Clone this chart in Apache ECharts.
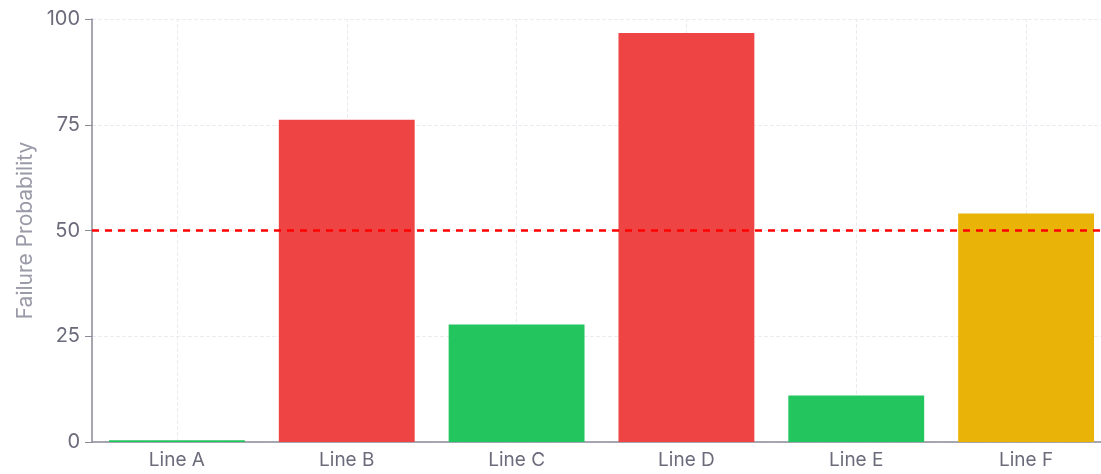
<!DOCTYPE html>
<html><head><meta charset="utf-8">
<script src="https://cdn.jsdelivr.net/npm/echarts@6/dist/echarts.min.js"></script>
<style>html,body{margin:0;padding:0;background:#fff}#c{width:1101px;height:474px}</style>
</head><body><div id="c"></div>
<script>
const categories = ["Line A","Line B","Line C","Line D","Line E","Line F"];
const failureProb = [0.4, 76.2, 27.8, 96.7, 11.0, 54.0];
const barColors = ["#22c55e","#ef4444","#22c55e","#ef4444","#22c55e","#eab308"];
const threshold = 50;

const chart = echarts.init(document.getElementById('c'));
chart.setOption({
  animation:false,
  textStyle:{fontFamily:'Inter'},
  grid:{left:92,width:1019,top:19,bottom:32,containLabel:false,outerBoundsMode:'none'},
  xAxis:{type:'category',data:categories,
    axisLine:{lineStyle:{color:'#8a8a99',width:1.5}},
    axisTick:{alignWithLabel:true,length:6,lineStyle:{color:'#8a8a99'}},
    axisLabel:{color:'#6b6b7b',fontSize:19,margin:9},
    splitLine:{show:false}},
  yAxis:{type:'value',min:0,max:100,interval:25,
    name:'Failure Probability',nameLocation:'middle',nameGap:56,
    nameTextStyle:{color:'#9a9aa8',fontSize:21},
    axisLine:{show:true,lineStyle:{color:'#8a8a99',width:1.5}},
    axisTick:{show:true,length:7,lineStyle:{color:'#8a8a99'}},
    axisLabel:{color:'#6b6b7b',fontSize:20,margin:12},
    splitLine:{show:true,lineStyle:{color:'#ececf0',type:'dashed'}}},
  series:[
   {type:'bar',data:[],silent:true,
    markLine:{silent:true,symbol:'none',label:{show:false},z:1,animation:false,
      lineStyle:{color:'#ececf0',type:'dashed',width:1},
      data:categories.map(c=>({xAxis:c}))}},
   {type:'bar',barCategoryGap:'20%',barGap:'-100%',
    data:failureProb.map((v,i)=>({value:v,itemStyle:{color:barColors[i]}})),
    markLine:{silent:true,symbol:'none',label:{show:false},
      lineStyle:{color:'#ff0000',type:[7,6],width:2.5},
      data:[{yAxis:threshold}]}}]
});
</script></body></html>
